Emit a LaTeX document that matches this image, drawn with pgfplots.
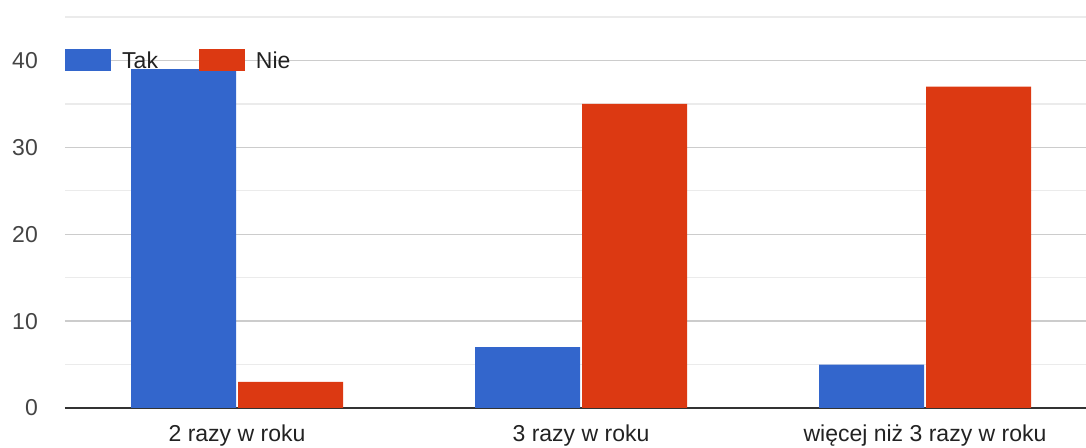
\documentclass[border=0pt]{standalone}
\usepackage{fontspec}
\setmainfont{Liberation Sans}
\usepackage{pgfplots}
\pgfplotsset{compat=1.18}
\definecolor{gtak}{HTML}{3366CC}
\definecolor{gnie}{HTML}{DC3912}
\definecolor{gmajor}{HTML}{CCCCCC}
\definecolor{gminor}{HTML}{EBEBEB}
\definecolor{gtext}{HTML}{222222}
\definecolor{gtick}{HTML}{444444}
\newcommand{\chartfont}{\fontsize{23}{27}\selectfont}

\begin{document}
\begin{tikzpicture}
\begin{axis}[
  name=ax,
  scale only axis,
  width=1021pt,
  height=391pt,
  ybar=2pt,
  bar width=105pt,
  xmin=-0.5, xmax=2.468,
  ymin=0, ymax=45,
  xtick=data,
  xticklabels={2 razy w roku,3 razy w roku,więcej niż 3 razy w roku},
  ytick={0,10,20,30,40},
  minor ytick={5,15,25,35,45},
  grid=both,
  major grid style={gmajor,line width=1.3pt},
  minor grid style={gminor,line width=1.3pt},
  xmajorgrids=false,
  axis lines*=left,
  x axis line style={-,line width=2pt,color=black!80},
  y axis line style={draw=none},
  major tick length=0pt,
  minor tick length=0pt,
  /pgf/number format/assume math mode=true,
  yticklabel style={font=\chartfont,text=gtick,inner sep=0pt,anchor=east,xshift=-27pt},
  xticklabel style={font=\chartfont,text=gtext,inner sep=0pt,anchor=base,yshift=-34pt},
  legend columns=2,
  legend style={
    at={(rel axis cs:0,0.8889)}, anchor=west,
    draw=none, fill=none, inner sep=0pt,
    font=\chartfont, text=gtext,
    nodes={inner sep=0pt},
    /tikz/every odd column/.append style={column sep=11pt},
    /tikz/every even column/.append style={column sep=41pt}
  },
]
\addplot[draw=none,fill=gtak,
  legend image code/.code={\fill[gtak] (0pt,-11pt) rectangle (46pt,11pt);}]
  coordinates {(0,39) (1,7) (2,5)};
\addlegendentry{Tak}
\addplot[draw=none,fill=gnie,
  legend image code/.code={\fill[gnie] (0pt,-11pt) rectangle (46pt,11pt);}]
  coordinates {(0,3) (1,35) (2,37)};
\addlegendentry{Nie}
\end{axis}
\pgfresetboundingbox
\useasboundingbox ([xshift=-65pt,yshift=-40pt]ax.south west) rectangle ([yshift=17pt]ax.north east);
\end{tikzpicture}
\end{document}
